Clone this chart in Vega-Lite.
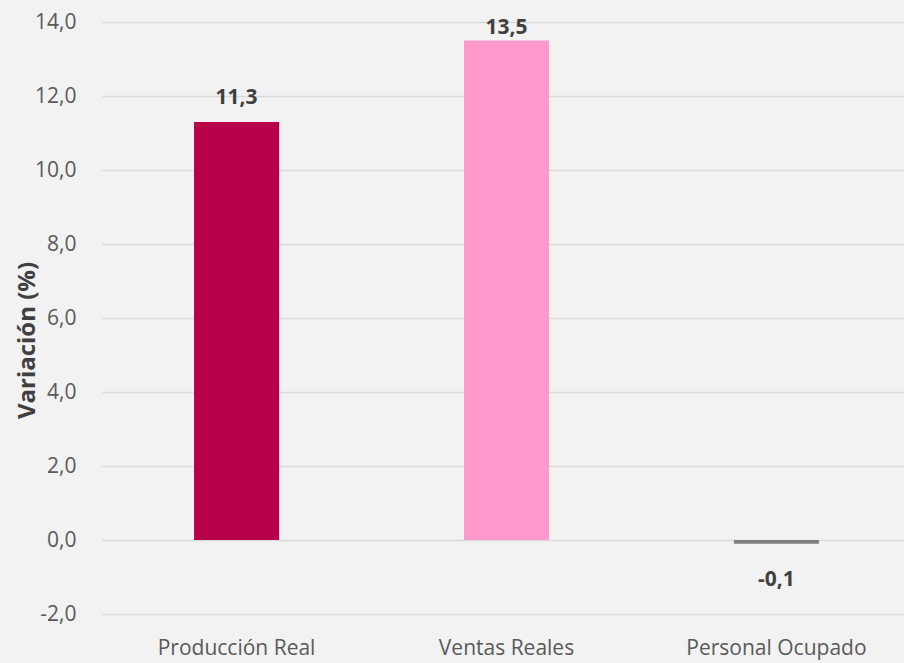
{
  "$schema": "https://vega.github.io/schema/vega-lite/v6.json",
  "width": 802,
  "height": 592,
  "autosize": {"type": "none"},
  "padding": {"left": 102, "top": 22, "right": 0, "bottom": 49},
  "background": "#f2f2f2",
  "config": {
    "view": {"stroke": null},
    "font": "Open Sans"
  },
  "data": {
    "values": [
      {"categoria": "Producción Real", "valor": 11.3},
      {"categoria": "Ventas Reales", "valor": 13.5},
      {"categoria": "Personal Ocupado", "valor": -0.1}
    ]
  },
  "encoding": {
    "x": {
      "field": "categoria",
      "type": "nominal",
      "sort": null,
      "scale": {"range": [0, 809], "paddingInner": 0.685, "paddingOuter": 0.341},
      "axis": {
        "title": null,
        "labelAngle": 0,
        "domain": false,
        "ticks": false,
        "labelFont": "Open Sans",
        "labelFontSize": 21,
        "labelColor": "#595959",
        "labelPadding": 23,
        "labelLimit": 400,
        "labelOverlap": false
      }
    },
    "y": {
      "field": "valor",
      "type": "quantitative",
      "scale": {"domain": [-2, 14], "nice": false},
      "axis": {
        "title": "Variación (%)",
        "titleFont": "Open Sans",
        "titleFontSize": 24,
        "titleFontWeight": "bold",
        "titleColor": "#404040",
        "titleX": -75,
        "titleY": 318,
        "titleAngle": -90,
        "titleAlign": "center",
        "titleBaseline": "middle",
        "values": [-2, 0, 2, 4, 6, 8, 10, 12, 14],
        "labelExpr": "replace(replace(format(datum.value, '.1f'), '.', ','), '\u2212', '-')",
        "labelFont": "Open Sans",
        "labelFontSize": 21,
        "labelColor": "#595959",
        "labelPadding": 26,
        "domain": false,
        "ticks": false,
        "gridColor": "#d9d9d9",
        "gridWidth": 1.5
      }
    }
  },
  "layer": [
    {
      "mark": {"type": "bar"},
      "encoding": {
        "color": {
          "field": "categoria",
          "type": "nominal",
          "scale": {
            "domain": ["Producción Real", "Ventas Reales", "Personal Ocupado"],
            "range": ["#b8004a", "#ff99cc", "#7f7f7f"]
          },
          "legend": null
        }
      }
    },
    {
      "mark": {
        "type": "text",
        "font": "Open Sans",
        "fontSize": 21,
        "fontWeight": "bold",
        "color": "#404040",
        "baseline": "middle",
        "dy": {"expr": "datum.valor < 0 ? 36 : max(-24, 6 - scale('y', datum.valor))"},
        "text": {"expr": "replace(replace(format(datum.valor, '.1f'), '.', ','), '\u2212', '-')"}
      }
    }
  ]
}
